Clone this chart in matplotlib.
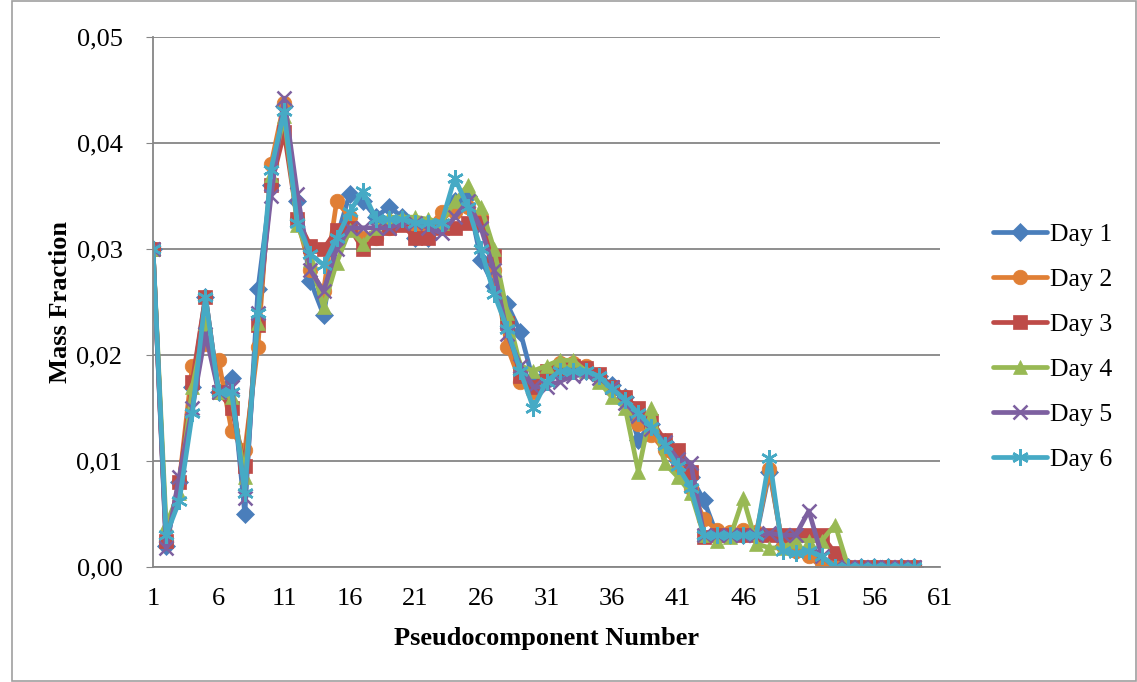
import matplotlib
matplotlib.use("Agg")
import matplotlib.pyplot as plt
from matplotlib.patches import Rectangle

x = list(range(1, 60))

day1 = [0.030, 0.0020, 0.0080, 0.0170, 0.0255, 0.0165, 0.0178, 0.0050, 0.0262, 0.0360,
        0.0435, 0.0345, 0.0270, 0.0238, 0.0310, 0.0352, 0.0345, 0.0330, 0.0340, 0.0330,
        0.0310, 0.0310, 0.0325, 0.0345, 0.0350, 0.0290, 0.0265, 0.0248, 0.0222, 0.0175,
        0.0185, 0.0185, 0.0188, 0.0185, 0.0180, 0.0172, 0.0160, 0.0120, 0.0135, 0.0118,
        0.0100, 0.0085, 0.0063, 0.0030, 0.0030, 0.0030, 0.0030, 0.0090, 0.0020, 0.0015,
        0.0015, 0.0005, 0.0, 0.0, 0.0, 0.0, 0.0, 0.0, 0.0]
day2 = [0.030, 0.0025, 0.0080, 0.0190, 0.0210, 0.0195, 0.0128, 0.0110, 0.0208, 0.0380,
        0.0438, 0.0328, 0.0280, 0.0260, 0.0345, 0.0330, 0.0310, 0.0310, 0.0320, 0.0325,
        0.0320, 0.0320, 0.0335, 0.0335, 0.0340, 0.0330, 0.0280, 0.0208, 0.0175, 0.0165,
        0.0185, 0.0192, 0.0192, 0.0190, 0.0180, 0.0168, 0.0160, 0.0135, 0.0125, 0.0110,
        0.0095, 0.0075, 0.0045, 0.0035, 0.0033, 0.0035, 0.0033, 0.0092, 0.0020, 0.0015,
        0.0010, 0.0, 0.0, 0.0, 0.0, 0.0, 0.0, 0.0, 0.0]
day3 = [0.030, 0.0025, 0.0080, 0.0175, 0.0255, 0.0165, 0.0150, 0.0095, 0.0228, 0.0360,
        0.0410, 0.0328, 0.0303, 0.0300, 0.0318, 0.0320, 0.0300, 0.0310, 0.0320, 0.0323,
        0.0310, 0.0310, 0.0320, 0.0320, 0.0325, 0.0325, 0.0293, 0.0230, 0.0180, 0.0170,
        0.0185, 0.0188, 0.0190, 0.0188, 0.0182, 0.0170, 0.0160, 0.0150, 0.0138, 0.0120,
        0.0110, 0.0090, 0.0028, 0.0030, 0.0030, 0.0030, 0.0030, 0.0030, 0.0030, 0.0030,
        0.0030, 0.0030, 0.0013, 0.0, 0.0, 0.0, 0.0, 0.0, 0.0]
day4 = [0.030, 0.0040, 0.0070, 0.0170, 0.0230, 0.0165, 0.0160, 0.0085, 0.0230, 0.0370,
        0.0425, 0.0323, 0.0290, 0.0245, 0.0287, 0.0318, 0.0305, 0.0320, 0.0330, 0.0330,
        0.0330, 0.0328, 0.0325, 0.0345, 0.0360, 0.0340, 0.0300, 0.0240, 0.0190, 0.0185,
        0.0190, 0.0195, 0.0195, 0.0185, 0.0175, 0.0160, 0.0150, 0.0090, 0.0150, 0.0098,
        0.0085, 0.0070, 0.0030, 0.0025, 0.0028, 0.0065, 0.0022, 0.0018, 0.0018, 0.0025,
        0.0025, 0.0025, 0.0040, 0.0, 0.0, 0.0, 0.0, 0.0, 0.0]
day5 = [0.030, 0.0018, 0.0085, 0.0150, 0.0220, 0.0165, 0.0170, 0.0065, 0.0240, 0.0350,
        0.0442, 0.0352, 0.0280, 0.0260, 0.0300, 0.0320, 0.0320, 0.0320, 0.0320, 0.0325,
        0.0325, 0.0320, 0.0315, 0.0330, 0.0345, 0.0320, 0.0280, 0.0220, 0.0190, 0.0170,
        0.0170, 0.0175, 0.0180, 0.0182, 0.0178, 0.0170, 0.0155, 0.0142, 0.0130, 0.0118,
        0.0102, 0.0098, 0.0030, 0.0030, 0.0030, 0.0030, 0.0030, 0.0032, 0.0030, 0.0030,
        0.0053, 0.0010, 0.0, 0.0, 0.0, 0.0, 0.0, 0.0, 0.0]
day6 = [0.030, 0.0030, 0.0062, 0.0145, 0.0255, 0.0165, 0.0165, 0.0070, 0.0240, 0.0375,
        0.0430, 0.0325, 0.0295, 0.0285, 0.0310, 0.0335, 0.0355, 0.0328, 0.0328, 0.0328,
        0.0325, 0.0325, 0.0325, 0.0367, 0.0340, 0.0300, 0.0258, 0.0225, 0.0185, 0.0150,
        0.0175, 0.0185, 0.0185, 0.0185, 0.0180, 0.0168, 0.0158, 0.0145, 0.0132, 0.0115,
        0.0095, 0.0075, 0.0030, 0.0030, 0.0030, 0.0030, 0.0030, 0.0103, 0.0015, 0.0013,
        0.0015, 0.0010, 0.0, 0.0, 0.0, 0.0, 0.0, 0.0, 0.0]

labels = ["Day 1", "Day 2", "Day 3", "Day 4", "Day 5", "Day 6"]
series = [day1, day2, day3, day4, day5, day6]
colors = ["#4A7EBB", "#E07F35", "#BE4B48", "#98B954", "#7D60A0", "#46AAC5"]
markers = ["D", "o", "s", "^", "x", (6, 2, 0)]
msizes = [9, 10.5, 10, 10.5, 10.5, 12]

plt.rcParams['font.family'] = ['Liberation Serif', 'DejaVu Serif']

fig = plt.figure(figsize=(11.37, 6.82), dpi=100)
ax = fig.add_axes([153/1137, 1 - 567/682, (940-153)/1137, (567-37)/682])

for s, lab, c, m, ms in zip(series, labels, colors, markers, msizes):
    mew = 1.8 if m in ("x", (6, 2, 0)) else 0.5
    ax.plot(x, s, color=c, lw=3.4, marker=m, markersize=ms, markerfacecolor=c,
            markeredgecolor=c, markeredgewidth=mew, label=lab,
            solid_joinstyle='round', solid_capstyle='round')

ax.set_xlim(1, 61)
ax.set_ylim(0, 0.05)
ax.set_xticks(range(1, 62, 5))
ax.set_yticks([0, 0.01, 0.02, 0.03, 0.04, 0.05])
ax.set_yticklabels(["0,00", "0,01", "0,02", "0,03", "0,04", "0,05"])
ax.tick_params(axis='both', labelsize=19, colors='black')
ax.tick_params(axis='x', length=0, pad=15)
ax.tick_params(axis='y', length=5, color='#868686', pad=17)
ax.grid(axis='y', color='#868686', lw=1.3)
ax.set_axisbelow(True)
for sp in ['top', 'right']:
    ax.spines[sp].set_visible(False)
for sp in ['left', 'bottom']:
    ax.spines[sp].set_color('#868686')
    ax.spines[sp].set_linewidth(1.3)

ax.set_xlabel("Pseudocomponent Number", fontsize=19, fontweight='bold', labelpad=12)
ax.set_ylabel("Mass Fraction", fontsize=19, fontweight='bold', labelpad=3)

leg = ax.legend(loc='center left', bbox_to_anchor=(1.067, 0.415), frameon=False,
                fontsize=18.5, handlelength=2.1, handletextpad=0.12, labelspacing=0.86,
                borderaxespad=0, borderpad=0)

fig.patches.append(Rectangle((12/1137, 1/682), 1 - 13/1137, 1 - 2/682,
                             transform=fig.transFigure, fill=False,
                             edgecolor='#A0A0A0', lw=1.2))

fig.savefig("out.png", dpi=100)
